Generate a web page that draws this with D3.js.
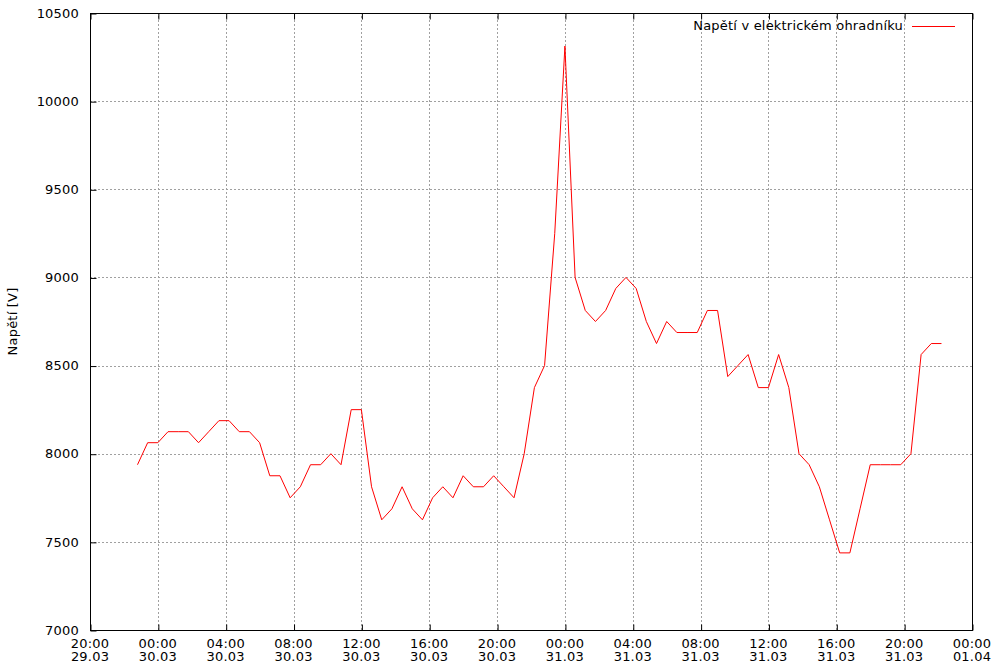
<!DOCTYPE html>
<html>
<head>
<meta charset="utf-8">
<script src="https://cdn.jsdelivr.net/npm/d3@7"></script>
<style>
  body { margin: 0; background: #fff; }
  text { font-family: 'DejaVu Sans', sans-serif; font-size: 13px; letter-spacing: 0.2px; fill: #000; }
</style>
</head>
<body>
<div id="container"></div>
<script>
// measurement times (dd.mm HH:MM, year 2024 assumed)
const times = [
    '29.03 22:48', '29.03 23:24', '30.03 00:00', '30.03 00:36', '30.03 01:12', '30.03 01:48',
    '30.03 02:24', '30.03 03:00', '30.03 03:36', '30.03 04:12', '30.03 04:48', '30.03 05:24',
    '30.03 06:00', '30.03 06:36', '30.03 07:12', '30.03 07:48', '30.03 08:24', '30.03 09:00',
    '30.03 09:36', '30.03 10:12', '30.03 10:48', '30.03 11:24', '30.03 12:00', '30.03 12:36',
    '30.03 13:12', '30.03 13:48', '30.03 14:24', '30.03 15:00', '30.03 15:36', '30.03 16:12',
    '30.03 16:48', '30.03 17:24', '30.03 18:00', '30.03 18:36', '30.03 19:12', '30.03 19:48',
    '30.03 20:24', '30.03 21:00', '30.03 21:36', '30.03 22:12', '30.03 22:48', '30.03 23:24',
    '31.03 00:00', '31.03 00:36', '31.03 01:12', '31.03 01:48', '31.03 02:24', '31.03 03:00',
    '31.03 03:36', '31.03 04:12', '31.03 04:48', '31.03 05:24', '31.03 06:00', '31.03 06:36',
    '31.03 07:12', '31.03 07:48', '31.03 08:24', '31.03 09:00', '31.03 09:36', '31.03 10:12',
    '31.03 10:48', '31.03 11:24', '31.03 12:00', '31.03 12:36', '31.03 13:12', '31.03 13:48',
    '31.03 14:24', '31.03 15:00', '31.03 15:36', '31.03 16:12', '31.03 16:48', '31.03 17:24',
    '31.03 18:00', '31.03 18:36', '31.03 19:12', '31.03 19:48', '31.03 20:24', '31.03 21:00',
    '31.03 21:36', '31.03 22:12'
];

// voltage [V]
const voltage = [
    7937.5, 8062.5, 8062.5, 8125, 8125, 8125, 8062.5, 8125, 8187.5, 8187.5,
    8125, 8125, 8062.5, 7875, 7875, 7750, 7812.5, 7937.5, 7937.5, 8000,
    7937.5, 8250, 8250, 7812.5, 7625, 7687.5, 7812.5, 7687.5, 7625, 7750,
    7812.5, 7750, 7875, 7812.5, 7812.5, 7875, 7812.5, 7750, 8000, 8375,
    8500, 9250, 10312.5, 9000, 8812.5, 8750, 8812.5, 8937.5, 9000, 8937.5,
    8750, 8625, 8750, 8687.5, 8687.5, 8687.5, 8812.5, 8812.5, 8437.5, 8500,
    8562.5, 8375, 8375, 8562.5, 8375, 8000, 7937.5, 7812.5, 7625, 7437.5,
    7437.5, 7687.5, 7937.5, 7937.5, 7937.5, 7937.5, 8000, 8562.5, 8625, 8625
];

const yTicks = [7000, 7500, 8000, 8500, 9000, 9500, 10000, 10500];
const xStart = '29.03 20:00';
const xEnd = '01.04 00:00';

const seriesName = 'Napětí v elektrickém ohradníku';
const yTitle = 'Napětí [V]';

const parseTime = d3.timeParse('%d.%m %H:%M');
const data = times.map((t, i) => ({ t: parseTime(t), v: voltage[i] }));

const width = 1000, height = 670;
const margin = { left: 90, right: 28, top: 13, bottom: 40 };

const svg = d3.select('#container')
    .append('svg')
    .attr('width', width)
    .attr('height', height);

const x = d3.scaleTime()
    .domain([parseTime(xStart), parseTime(xEnd)])
    .range([margin.left, width - margin.right]);

const y = d3.scaleLinear()
    .domain([7000, 10500])
    .range([height - margin.bottom, margin.top]);

const xTicks = d3.timeHour.every(4).range(x.domain()[0], d3.timeMinute.offset(x.domain()[1], 1));
const fmtTime = d3.timeFormat('%H:%M');
const fmtDate = d3.timeFormat('%d.%m');

// grid
const grid = svg.append('g')
    .attr('stroke', '#a0a0a0')
    .attr('stroke-width', 1)
    .attr('stroke-dasharray', '2,2')
    .attr('shape-rendering', 'crispEdges');
grid.selectAll('.gx')
    .data(xTicks.slice(1, -1))
    .join('line')
    .attr('x1', d => Math.round(x(d)) + 0.5)
    .attr('x2', d => Math.round(x(d)) + 0.5)
    .attr('y1', y.range()[0])
    .attr('y2', y.range()[1]);
grid.selectAll('.gy')
    .data(yTicks.slice(1, -1))
    .join('line')
    .attr('x1', x.range()[0])
    .attr('x2', x.range()[1])
    .attr('y1', d => Math.round(y(d)) + 0.5)
    .attr('y2', d => Math.round(y(d)) + 0.5);

// y axis (left, ticks inward)
const yAxis = svg.append('g')
    .attr('transform', `translate(${margin.left + 0.5},0.5)`)
    .call(d3.axisRight(y).tickValues(yTicks).tickSize(6).tickFormat(''));
yAxis.select('.domain').remove();
yAxis.selectAll('line').attr('stroke', '#000');
svg.append('g')
    .selectAll('text')
    .data(yTicks)
    .join('text')
    .attr('x', margin.left - 11)
    .attr('y', d => y(d))
    .attr('dy', '0.36em')
    .attr('text-anchor', 'end')
    .text(d => d);

// x axis bottom + mirrored top (ticks inward)
const xBottom = svg.append('g')
    .attr('transform', `translate(0.5,${height - margin.bottom + 0.5})`)
    .call(d3.axisTop(x).tickValues(xTicks).tickSize(6).tickFormat(''));
xBottom.select('.domain').remove();
xBottom.selectAll('line').attr('stroke', '#000');
const xTop = svg.append('g')
    .attr('transform', `translate(0.5,${margin.top + 0.5})`)
    .call(d3.axisBottom(x).tickValues(xTicks).tickSize(6).tickFormat(''));
xTop.select('.domain').remove();
xTop.selectAll('line').attr('stroke', '#000');

const xLabels = svg.append('g')
    .selectAll('text')
    .data(xTicks)
    .join('text')
    .attr('text-anchor', 'middle')
    .attr('x', d => x(d));
xLabels.append('tspan')
    .attr('x', d => x(d))
    .attr('y', height - margin.bottom + 18)
    .text(d => fmtTime(d));
xLabels.append('tspan')
    .attr('x', d => x(d))
    .attr('y', height - margin.bottom + 31)
    .text(d => fmtDate(d));

// border
svg.append('rect')
    .attr('x', margin.left + 0.5)
    .attr('y', margin.top + 0.5)
    .attr('width', width - margin.left - margin.right)
    .attr('height', height - margin.top - margin.bottom)
    .attr('fill', 'none')
    .attr('stroke', '#000')
    .attr('stroke-width', 1)
    .attr('shape-rendering', 'crispEdges');

// series
const line = d3.line()
    .x(d => x(d.t))
    .y(d => y(d.v));
svg.append('path')
    .datum(data)
    .attr('d', line)
    .attr('fill', 'none')
    .attr('stroke', '#ff0000')
    .attr('stroke-width', 1);

// legend
svg.append('text')
    .attr('x', 903)
    .attr('y', 30)
    .attr('text-anchor', 'end')
    .text(seriesName);
svg.append('line')
    .attr('x1', 912)
    .attr('x2', 955)
    .attr('y1', 26.5)
    .attr('y2', 26.5)
    .attr('stroke', '#ff0000')
    .attr('stroke-width', 1);

// y title
svg.append('text')
    .attr('transform', `translate(17,${(margin.top + height - margin.bottom) / 2}) rotate(-90)`)
    .attr('text-anchor', 'middle')
    .text(yTitle);
</script>
</body>
</html>
